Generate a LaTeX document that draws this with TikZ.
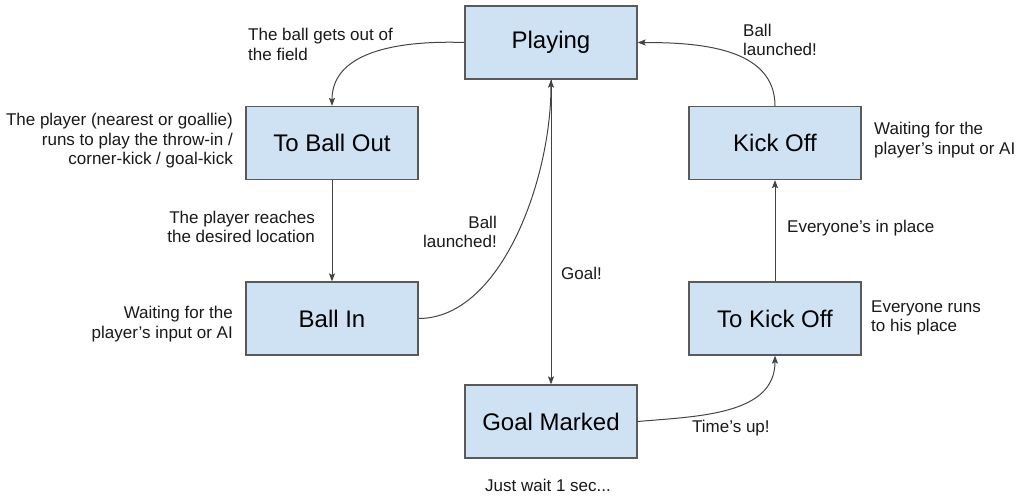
\documentclass[tikz,border=0pt]{standalone}
\usepackage{fontspec}
\setmainfont{Liberation Sans}
\usetikzlibrary{arrows.meta}
\definecolor{boxfill}{HTML}{CFE2F3}
\definecolor{boxline}{HTML}{5A5A5A}
\definecolor{arrowline}{HTML}{444444}
\begin{document}
\begin{tikzpicture}[x=1pt,y=-1pt,
  state/.style={draw=boxline,fill=boxfill,line width=1.2pt,minimum width=172pt,minimum height=73pt,inner sep=0pt,font=\fontsize{24}{28}\selectfont},
  lbl/.style={inner sep=0pt,font=\fontsize{17}{19.5}\selectfont,text=black!90},
  conn/.style={draw=arrowline,line width=1pt,-{Stealth[length=8pt,width=6pt,inset=1.5pt]}}
]
\useasboundingbox (0,0) rectangle (1026,496);
% states
\node[state] (play) at (551,42.5) {Playing};
\node[state] (tbo)  at (332,143) {To Ball Out};
\node[state] (bin)  at (332,318.5) {Ball In};
\node[state] (goal) at (551,421.5) {Goal Marked};
\node[state] (ko)   at (775,143) {Kick Off};
\node[state] (tko)  at (775,318.5) {To Kick Off};
% connectors
\draw[conn] (play.west) to[out=178,in=90] (tbo.north);
\draw[conn] (tbo.south) -- (bin.north);
\draw[conn] (bin.east) to[out=0,in=-90,out distance=82pt,in distance=101pt] (play.south);
\draw[conn] (play.south) -- (goal.north);
\draw[conn] (goal.east) to[out=5,in=-90] (tko.south);
\draw[conn] (tko.north) -- (ko.south);
\draw[conn] (ko.north) to[out=90,in=0] (play.east);
% labels
\node[lbl,anchor=west,align=left] (l1) at (248,44.5) {The ball gets out of\\the field};
\node[lbl,anchor=east,align=right] (l2) at (233,141) {The player (nearest or goallie)\\runs to play the throw-in /\\corner-kick / goal-kick};
\node[lbl,anchor=east,align=right] (l3) at (315,227) {The player reaches\\the desired location};
\node[lbl,anchor=east,align=right] (l4) at (233,324) {Waiting for the\\player’s input or AI};
\node[lbl,anchor=east,align=right] (l5) at (497,232) {Ball\\launched!};
\node[lbl,anchor=west] (l6) at (561,273) {Goal!};
\node[lbl] (l7) at (548,485) {Just wait 1 sec...};
\node[lbl,anchor=west] (l8) at (692,428) {Time’s up!};
\node[lbl,anchor=west,align=left] (l9) at (871,318) {Everyone runs\\to his place};
\node[lbl,anchor=west] (l10) at (787,228) {Everyone’s in place};
\node[lbl,anchor=west,align=left] (l11) at (874,140) {Waiting for the\\player’s input or AI};
\node[lbl,anchor=west,align=left] (l12) at (743,40) {Ball\\launched!};
\end{tikzpicture}
\end{document}
